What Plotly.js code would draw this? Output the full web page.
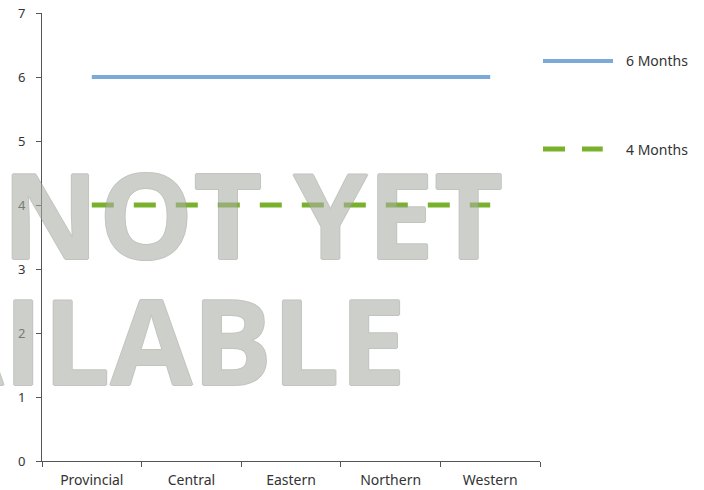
<!DOCTYPE html>
<html>
<head>
<meta charset="utf-8">
<script src="https://cdn.plot.ly/plotly-3.0.1.min.js"></script>
<style>html,body{margin:0;padding:0;background:#fff;}#chart{width:704px;height:490px;}</style>
</head>
<body>
<div id="chart"></div>
<script>
// ---- data ----
var categories = ["Provincial", "Central", "Eastern", "Northern", "Western"];
var seriesNames = ["6 Months", "4 Months"];
var sixMonths = [6, 6, 6, 6, 6];
var fourMonths = [4, 4, 4, 4, 4];
var yTicks = [0, 1, 2, 3, 4, 5, 6, 7];

var blue = "#7ba9d9";
var green = "#7ab12c";
var axisColor = "#555";
var textColor = "#333333";

var traces = [
  {x: categories, y: sixMonths, name: seriesNames[0], type: "scatter", mode: "lines",
   line: {color: blue, width: 4}, showlegend: false, hoverinfo: "skip"},
  {x: categories, y: fourMonths, name: seriesNames[1], type: "scatter", mode: "lines",
   line: {color: green, width: 5, dash: "22px,20px"}, showlegend: false, hoverinfo: "skip"}
];

var wmEdge = "#979b92";
var wmShadow = "1px 0 0 " + wmEdge + ", -1px 0 0 " + wmEdge + ", 0 1px 0 " + wmEdge + ", 0 -1px 0 " + wmEdge;
var wmFont = {family: "Open Sans, sans-serif", size: 119, color: "#aaaea4", weight: 700, shadow: wmShadow};

var annotations = [
  {text: "NOT YET", xref: "paper", yref: "paper", x: 0.4217, y: 0.553, xanchor: "center", yanchor: "middle",
   showarrow: false, font: wmFont, opacity: 0.58},
  {text: "AVAILABLE", xref: "paper", yref: "paper", x: 0.735, y: 0.273, xanchor: "right", yanchor: "middle",
   showarrow: false, font: wmFont, opacity: 0.58},
  {text: seriesNames[0], xref: "paper", yref: "paper", x: 1.1687, y: 0.8929, xanchor: "left", yanchor: "middle",
   showarrow: false, font: {family: "Noto Sans, sans-serif", size: 14, color: textColor}},
  {text: seriesNames[1], xref: "paper", yref: "paper", x: 1.1687, y: 0.6964, xanchor: "left", yanchor: "middle",
   showarrow: false, font: {family: "Noto Sans, sans-serif", size: 14, color: textColor}}
];

var shapes = [
  {type: "line", xref: "paper", yref: "paper", x0: 1.006, x1: 1.1466, y0: 0.8929, y1: 0.8929,
   line: {color: blue, width: 4}},
  {type: "line", xref: "paper", yref: "paper", x0: 1.006, x1: 1.126, y0: 0.6964, y1: 0.6964,
   line: {color: green, width: 5, dash: "22px,17px"}}
];

var layout = {
  width: 704, height: 490,
  margin: {l: 42, r: 164, t: 13, b: 29},
  paper_bgcolor: "#ffffff", plot_bgcolor: "#ffffff",
  showlegend: false,
  font: {family: "Noto Sans, sans-serif", size: 13, color: textColor},
  xaxis: {
    type: "category", range: [-0.5, 4.5], tickson: "boundaries",
    showline: true, linecolor: axisColor, linewidth: 1,
    ticks: "outside", ticklen: 5, tickcolor: axisColor, ticklabelstandoff: 6,
    tickfont: {size: 14},
    showgrid: false, zeroline: false, fixedrange: true
  },
  yaxis: {
    range: [0, 7], tickvals: yTicks, ticktext: yTicks.map(String),
    showline: true, linecolor: axisColor, linewidth: 1,
    ticks: "outside", ticklen: 5, tickcolor: axisColor, ticklabelstandoff: 8,
    tickfont: {size: 13},
    showgrid: false, zeroline: false, fixedrange: true
  },
  annotations: annotations,
  shapes: shapes
};

Plotly.newPlot("chart", traces, layout, {displayModeBar: false, staticPlot: true});
</script>
</body>
</html>
